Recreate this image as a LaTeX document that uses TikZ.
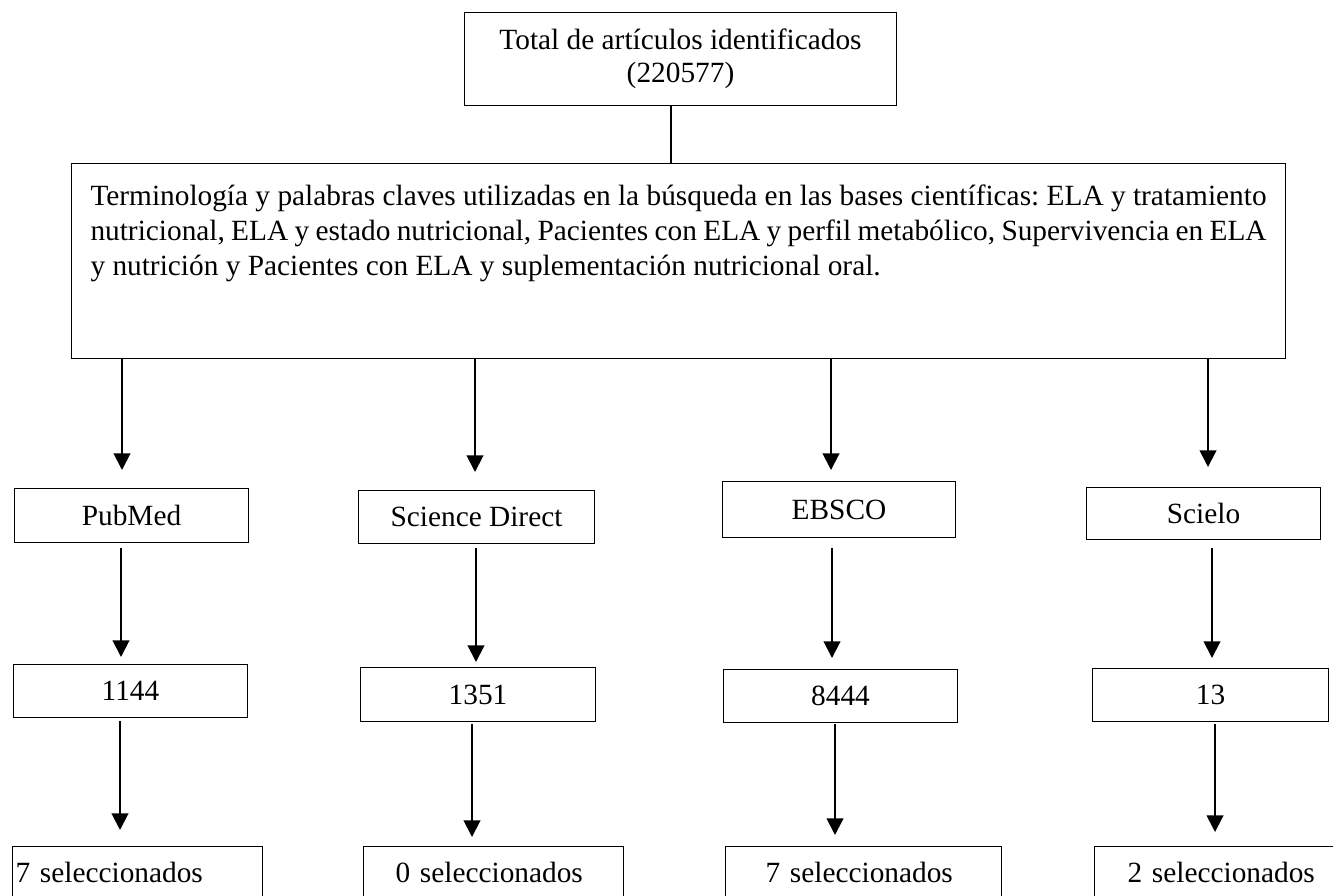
\documentclass[tikz,border=0pt]{standalone}
\usepackage{fontspec}
\setmainfont{Liberation Serif}
\usetikzlibrary{arrows.meta}
\newdimen\pxu \pxu=0.75pt
\begin{document}
\begin{tikzpicture}[x=0.75pt,y=-0.75pt,
  box/.style={draw, line width=0.75pt, inner sep=0pt, anchor=north west,
    font=\fontsize{22}{25}\selectfont, align=center},
  selbox/.style={box, align=left},
  arr/.style={line width=1.5pt, -{Triangle[width=12.5pt,length=12.5pt]}},
  conn/.style={line width=1.5pt}
]
\clip (0,0) rectangle (1333,895);
\fill[white] (0,0) rectangle (1333,895);

% top box
\node[box, minimum width=432\pxu, minimum height=93\pxu] (top) at (464,12)
  {Total de artículos identificados\\(220577)};

% big box
\node[box, inner xsep=19\pxu, inner ysep=0pt] (big) at (71,163)
  {\parbox[c][195\pxu][t]{1176\pxu}{\fontsize{22}{26.25}\selectfont\frenchspacing\hyphenpenalty=10000
   \rule{0pt}{42\pxu}Terminología y palabras claves utilizadas en la búsqueda en las bases científicas: ELA y tratamiento\linebreak
   nutricional, ELA y estado nutricional, Pacientes con ELA y perfil metabólico, Supervivencia en ELA\linebreak
   y nutrición y Pacientes con ELA y suplementación nutricional oral.}};

% databases
\node[box, minimum width=234\pxu, minimum height=54\pxu] (pub) at (14,488) {PubMed};
\node[box, minimum width=236\pxu, minimum height=53\pxu] (sd) at (358,490) {Science Direct};
\node[box, minimum width=233\pxu, minimum height=56\pxu] (eb) at (722,481) {EBSCO};
\node[box, minimum width=234\pxu, minimum height=52\pxu] (sc) at (1086,487) {Scielo};

% counts
\node[box, minimum width=234\pxu, minimum height=53\pxu] (n1) at (13,664) {1144};
\node[box, minimum width=235\pxu, minimum height=54\pxu] (n2) at (360,667) {1351};
\node[box, minimum width=234\pxu, minimum height=53\pxu] (n3) at (723,669) {8444};
\node[box, minimum width=236\pxu, minimum height=53\pxu] (n4) at (1092,668) {13};

% selected
\node[selbox, inner xsep=3\pxu, text width=244\pxu, minimum height=52\pxu] (s1) at (12,846) {7 seleccionados};
\node[selbox, inner xsep=32\pxu, text width=196\pxu, minimum height=52\pxu] (s2) at (363,846) {0 seleccionados};
\node[selbox, inner xsep=40\pxu, text width=196\pxu, minimum height=52\pxu] (s3) at (725,846) {7 seleccionados};
\node[selbox, inner xsep=33\pxu, text width=200\pxu, minimum height=52\pxu] (s4) at (1094,846) {2 seleccionados};

% x positions of connectors
\coordinate (xt) at (671,0);
\coordinate (xa1) at (122,0);
\coordinate (xa2) at (475,0);
\coordinate (xa3) at (831,0);
\coordinate (xa4) at (1208,0);
\coordinate (xb1) at (121,0);
\coordinate (xb2) at (476,0);
\coordinate (xb3) at (832,0);
\coordinate (xb4) at (1212,0);
\coordinate (xc1) at (120,0);
\coordinate (xc2) at (472,0);
\coordinate (xc3) at (835,0);
\coordinate (xc4) at (1215,0);

\draw[conn] (top.south -| xt) -- (big.north -| xt);

\draw[arr, shorten >=18\pxu] (big.south -| xa1) -- (pub.north -| xa1);
\draw[arr, shorten >=18\pxu] (big.south -| xa2) -- (sd.north -| xa2);
\draw[arr, shorten >=11\pxu] (big.south -| xa3) -- (eb.north -| xa3);
\draw[arr, shorten >=20\pxu] (big.south -| xa4) -- (sc.north -| xa4);

\draw[arr, shorten <=5\pxu, shorten >=7\pxu] (pub.south -| xb1) -- (n1.north -| xb1);
\draw[arr, shorten <=4\pxu, shorten >=5\pxu] (sd.south -| xb2) -- (n2.north -| xb2);
\draw[arr, shorten <=10\pxu, shorten >=11\pxu] (eb.south -| xb3) -- (n3.north -| xb3);
\draw[arr, shorten <=8\pxu, shorten >=10\pxu] (sc.south -| xb4) -- (n4.north -| xb4);

\draw[arr, shorten <=3\pxu, shorten >=16\pxu] (n1.south -| xc1) -- (s1.north -| xc1);
\draw[arr, shorten <=2\pxu, shorten >=9\pxu] (n2.south -| xc2) -- (s2.north -| xc2);
\draw[arr, shorten <=1\pxu, shorten >=11\pxu] (n3.south -| xc3) -- (s3.north -| xc3);
\draw[arr, shorten <=2\pxu, shorten >=14\pxu] (n4.south -| xc4) -- (s4.north -| xc4);
\end{tikzpicture}
\end{document}
